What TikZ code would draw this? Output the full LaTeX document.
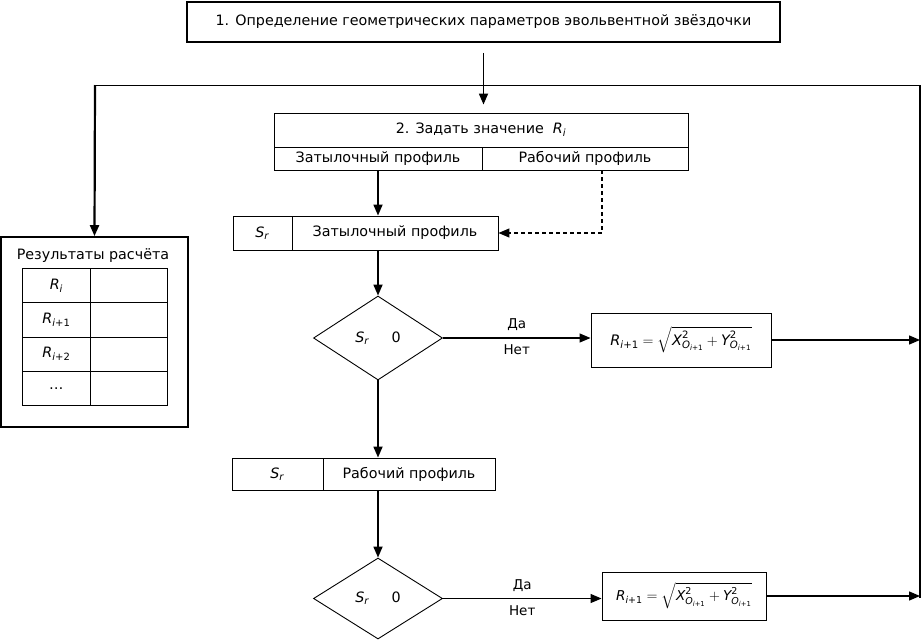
\documentclass[tikz,border=0pt]{standalone}
\usepackage{amsmath}
\usepackage{fontspec}
\setmainfont{DejaVu Sans}
\usetikzlibrary{shapes.geometric,arrows.meta,matrix}
\newcommand{\myit}[1]{\textit{#1}}
\newcommand{\myformula}{$\myit{R}_{\myit{i}\text{+1}}=\sqrt{\myit{X}^{\text{2}}_{\myit{O}_{\myit{i}\text{+1}}}+\myit{Y}^{\text{2}}_{\myit{O}_{\myit{i}\text{+1}}}}$}
\begin{document}
\begin{tikzpicture}[x=1pt,y=-1pt,
  every node/.style={font=\fontsize{14.3}{17}\selectfont},
  box/.style={draw,line width=0.9pt,inner sep=0pt,anchor=center},
  bbox/.style={draw,line width=1.8pt,inner sep=0pt,anchor=center},
  dia/.style={draw,line width=0.9pt,diamond,inner sep=0pt,aspect=1.5},
  tip/.style={-{Triangle[length=11pt,width=9pt]}},
  conn/.style={line width=1.7pt,tip},
  hconn/.style={line width=1.3pt,tip},
  thinline/.style={line width=0.9pt},
  dconn/.style={line width=1.2pt,dash pattern=on 4pt off 3pt,tip},
  lbl/.style={font=\fontsize{13.5}{16}\selectfont},
  fmla/.style={font=\fontsize{14.5}{17}\selectfont},
  fmlb/.style={font=\fontsize{13.6}{16}\selectfont}]
\useasboundingbox (0,0) rectangle (924,640);

% boxes
\node[bbox,minimum width=593,minimum height=40] (b1) at (483.5,22)
  {1. Определение геометрических параметров эвольвентной звёздочки};

\node[box,minimum width=414,minimum height=34] (b2top) at (481,130)
  {2. Задать значение \ \myit{R}\textsubscript{\myit{i}}};
\node[box,minimum width=208,minimum height=23] (b2l) at (378,158.5) {Затылочный профиль};
\node[box,minimum width=206,minimum height=23] (b2r) at (585,158.5) {Рабочий профиль};

\node[box,minimum width=59,minimum height=34] (b3s) at (262.5,233) {\myit{S}\textsubscript{\myit{r}}};
\node[box,minimum width=206,minimum height=34] (b3t) at (395,233) {Затылочный профиль};

\node[dia,minimum width=129,minimum height=84] (d1) at (378,338) {\myit{S}\textsubscript{\myit{r}}\hspace{22pt}0};

\node[box,fmla,minimum width=180,minimum height=54] (r1) at (681,340) {\myformula};

\node[box,minimum width=91,minimum height=32] (b4s) at (277.5,474) {\myit{S}\textsubscript{\myit{r}}};
\node[box,minimum width=172,minimum height=32] (b4t) at (409,474) {Рабочий профиль};

\node[dia,minimum width=129,minimum height=81] (d2) at (378,598.5) {\myit{S}\textsubscript{\myit{r}}\hspace{22pt}0};

\node[box,fmlb,minimum width=164,minimum height=48] (r2) at (684,596) {\myformula};

% results
\node[bbox,minimum width=187,minimum height=190] (res) at (94.5,332) {};
\node (restitle) at (93,256) {Результаты расчёта};
\matrix (tab) [matrix of nodes, nodes in empty cells, anchor=north west,
  inner sep=0pt, outer sep=0pt,
  nodes={draw,line width=0.8pt,inner sep=0pt,outer sep=0pt,minimum width=68,minimum height=34.25,anchor=center},
  column 2/.style={nodes={minimum width=77}},
  column sep=-0.8pt, row sep=-0.8pt] at (22,268) {
  \myit{R}\textsubscript{\myit{i}} & \\
  \myit{R}\textsubscript{\myit{i}+1} & \\
  \myit{R}\textsubscript{\myit{i}+2} & \\
  \dots & \\
};

% coordinates for the loop
\coordinate (a1s) at ([yshift=-10pt]b1.south);
\coordinate (rb) at (920,598);
\coordinate (rt) at (920,85);
\coordinate (lt) at (95,85);
\coordinate (dtop) at ([xshift=17pt]b2r.south);

% connectors
\draw[conn] (a1s) -- ([yshift=8pt]b2top.north -| a1s);
\draw[conn] (b2l.south) -- (b2l.south |- b3t.north);
\draw[dconn] (dtop) |- (b3t.east);
\draw[conn] (b3t.south -| d1.north) -- (d1.north);
\draw[hconn] (d1.east) -- node[lbl,above=3pt]{Да} node[lbl,below=3pt]{Нет} (r1.west |- d1.east);
\draw[conn] (d1.south) -- (d1.south |- b4t.north);
\draw[conn] (b4t.south -| d2.north) -- (d2.north);
\draw[hconn] (d2.east) -- node[lbl,above=3pt]{Да} node[lbl,below=3pt]{Нет} (r2.west |- d2.east);
\draw[hconn] (r1.east) -- (r1.east -| rb);
\draw[hconn] (r2.east) -- (r2.east -| rb);
\draw[line width=1.6pt] (rb) -- (rt);
\draw[thinline] (rt) -- (lt);
\draw[line width=2.2pt,tip] (lt) -- (res.north);
\end{tikzpicture}
\end{document}
